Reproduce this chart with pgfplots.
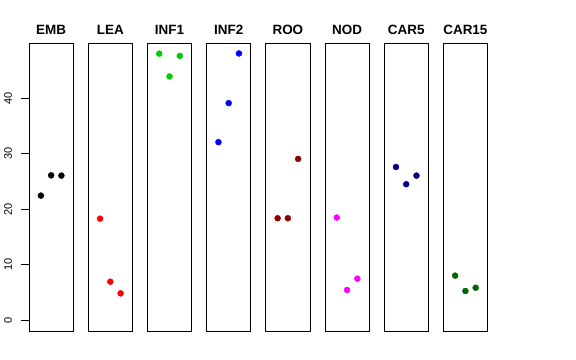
\documentclass[border=0pt]{standalone}
\usepackage{pgfplots}
\pgfplotsset{compat=1.18}
\usepackage{fontspec}
\setmainfont{Liberation Sans}
\definecolor{cgreen}{RGB}{0,205,0}
\definecolor{cred}{RGB}{255,0,0}
\definecolor{cblue}{RGB}{0,0,255}
\definecolor{cmagenta}{RGB}{255,0,255}
\definecolor{cdarkred}{RGB}{139,0,0}
\definecolor{cdarkblue}{RGB}{0,0,139}
\definecolor{cdarkgreen}{RGB}{0,100,0}
\pgfplotsset{panel/.style={
  scale only axis, width=44.3bp, height=288bp,
  xmin=-0.16, xmax=4.16, ymin=-1.92, ymax=49.92,
  xtick=\empty, anchor=south west,
  axis line style={line width=0.75bp},
  title style={font=\bfseries\fontsize{13.5}{16}\selectfont, at={(0.5,1)}, anchor=base, yshift=3bp, inner sep=0pt},
}}
\newcommand{\panel}[4]{%
  \begin{axis}[panel, ytick=\empty, at={({29bp+59.18bp*#1},29bp)}, title={#2}]
    \addplot[only marks, mark=*, mark size=3bp, color=#3, mark options={draw=#3, fill=#3}] coordinates {#4};
  \end{axis}}
\begin{document}
\begin{tikzpicture}
\path[use as bounding box] (0,0) rectangle (576bp,360bp);
\begin{axis}[panel, at={(29bp,29bp)}, title={EMB},
  ytick={0,10,20,30,40}, ytick pos=left, tick align=outside, major tick length=7.7bp,
  tick style={draw=black, line width=0.75bp},
  yticklabel style={xshift=-9bp, rotate=90, anchor=south, inner sep=0pt, font=\fontsize{11}{13}\selectfont},
  /pgf/number format/assume math mode=true]
  \addplot[only marks, mark=*, mark size=3bp, color=black] coordinates {(1,22.45)(2,26.1)(3,26.05)};
\end{axis}
\panel{1}{LEA}{cred}{(1,18.3)(2,6.95)(3,4.86)}
\panel{2}{INF1}{cgreen}{(1,48.0)(2,43.9)(3,47.6)}
\panel{3}{INF2}{cblue}{(1,32.07)(2,39.1)(3,48.04)}
\panel{4}{ROO}{cdarkred}{(1,18.38)(2,18.38)(3,29.06)}
\panel{5}{NOD}{cmagenta}{(1,18.5)(2,5.46)(3,7.5)}
\panel{6}{CAR5}{cdarkblue}{(1,27.6)(2,24.5)(3,26.05)}
\panel{7}{CAR15}{cdarkgreen}{(1,8.04)(2,5.28)(3,5.87)}
\end{tikzpicture}
\end{document}
